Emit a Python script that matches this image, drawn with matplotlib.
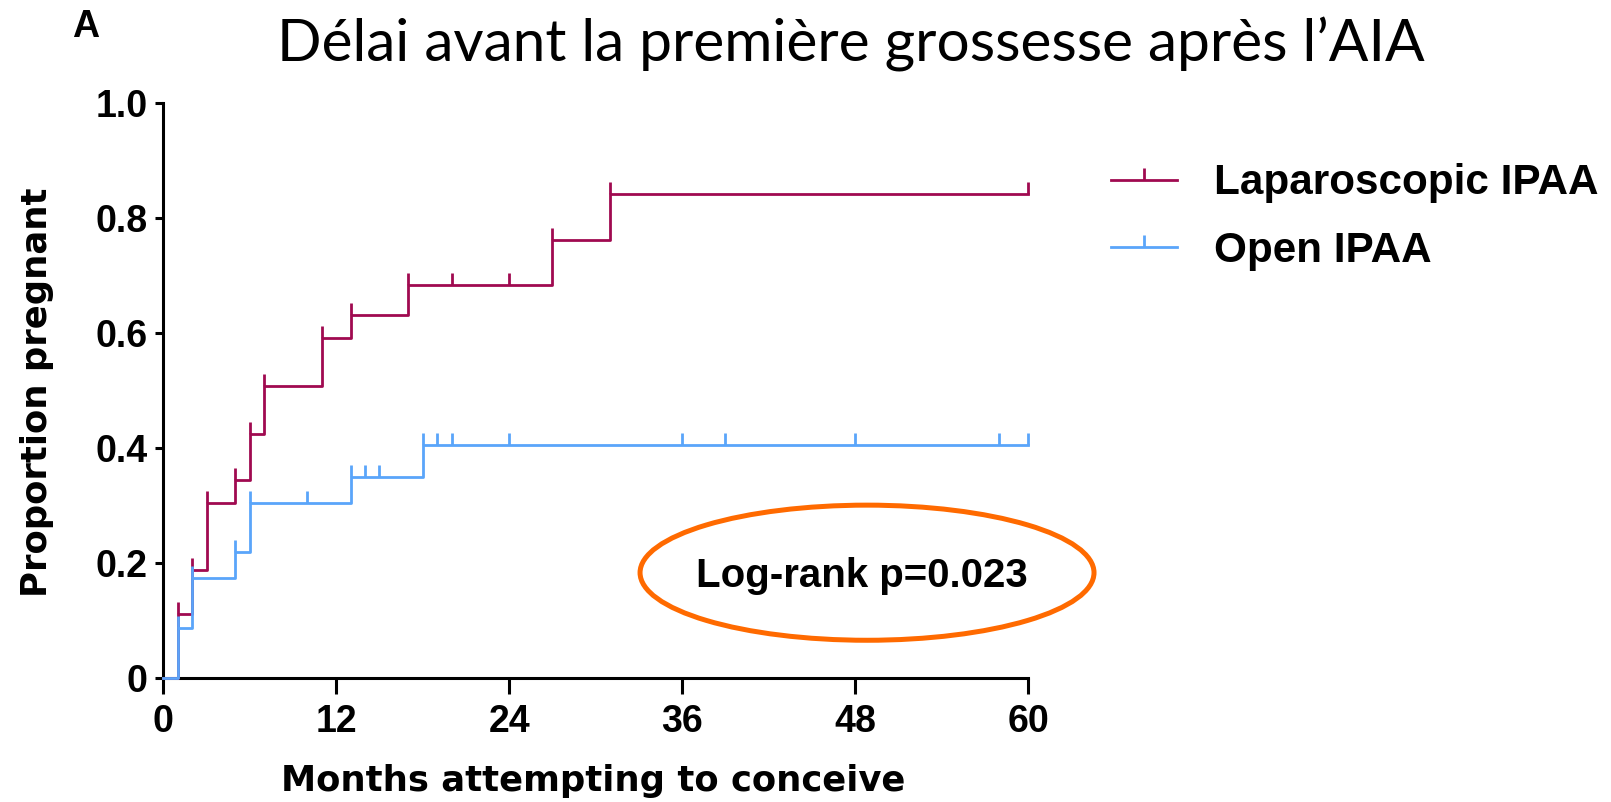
import numpy as np
import matplotlib
matplotlib.use('Agg')
from matplotlib import pyplot as plt
from matplotlib.path import Path
from matplotlib.patches import Ellipse

# Kaplan-Meier style step data (months, proportion pregnant)
lap_times = [0, 1, 2, 3, 5, 6, 7, 11, 13, 17, 27, 31, 60]
lap_prop = [0, 0.111, 0.188, 0.304, 0.343, 0.424, 0.508, 0.590, 0.630, 0.683, 0.762, 0.842, 0.842]
lap_censor = [1, 2, 3, 5, 6, 7, 11, 13, 17, 20, 24, 27, 31, 60]

open_times = [0, 1, 2, 5, 6, 13, 18, 60]
open_prop = [0, 0.087, 0.173, 0.218, 0.304, 0.349, 0.404, 0.404]
open_censor = [1, 2, 5, 6, 10, 13, 14, 15, 18, 19, 20, 24, 36, 39, 48, 58, 60]

labels = ['Laparoscopic IPAA', 'Open IPAA']
x_ticks = [0, 12, 24, 36, 48, 60]
y_ticks = [0, 0.2, 0.4, 0.6, 0.8, 1.0]
y_ticklabels = ['0', '0.2', '0.4', '0.6', '0.8', '1.0']

RED = '#A00A50'
BLUE = '#5AA5FA'
ORANGE = '#FF6A00'
TICK = Path([(0, 0), (0, 1)])  # upward censor tick


def level_at(times, props, t):
    idx = np.searchsorted(times, t, side='right') - 1
    return np.asarray(props)[idx]


fig = plt.figure(figsize=(16.11, 8.02), dpi=100)
ax = fig.add_axes([0.10137, 0.15499, 0.53675, 0.71696])

handles = []
for times, props, cens, col, lab, z in [
        (lap_times, lap_prop, lap_censor, RED, labels[0], 3),
        (open_times, open_prop, open_censor, BLUE, labels[1], 4)]:
    ax.step(times, props, where='post', color=col, lw=2.0, clip_on=False, zorder=z)
    ax.plot(cens, level_at(times, props, cens), ls='none', marker=TICK,
            markersize=17, markeredgewidth=2.0, color=col, clip_on=False, zorder=z)
    h, = ax.plot([], [], color=col, lw=2.0, marker=TICK, markersize=17,
                 markeredgewidth=2.0, label=lab)
    handles.append(h)

ax.set_xlim(0, 60)
ax.set_ylim(0, 1)
ax.spines['top'].set_visible(False)
ax.spines['right'].set_visible(False)
for s in ['left', 'bottom']:
    ax.spines[s].set_linewidth(2.2)

ax.set_xticks(x_ticks)
ax.set_yticks(y_ticks)
ax.set_yticklabels(y_ticklabels)
tick_font = dict(family='Liberation Sans', weight='bold', size=27)
for lbl in ax.get_xticklabels() + ax.get_yticklabels():
    lbl.set_fontproperties(matplotlib.font_manager.FontProperties(**tick_font))
ax.tick_params(axis='x', length=11.5, width=2.2, pad=7.5)
ax.tick_params(axis='y', length=5.8, width=2.2, pad=5.5)

ax.set_xlabel('Months attempting to conceive', family='DejaVu Sans', weight='bold',
              size=25.5, va='baseline')
ax.xaxis.set_label_coords(0.497, -0.1965)
ax.set_ylabel('Proportion pregnant', family='DejaVu Sans', weight='bold',
              size=25.5, va='baseline')
ax.yaxis.set_label_coords(-0.1348, 0.496)

# log-rank annotation
ax.add_patch(Ellipse((48.83, 0.1826), 31.5, 0.235, fill=False, edgecolor=ORANGE,
                     lw=3.6, clip_on=False, zorder=5))
ax.text(48.5, 0.157, 'Log-rank p=0.023', ha='center', va='baseline',
        family='Liberation Sans', weight='bold', size=29)

ax.legend(handles=handles, loc='upper left', bbox_to_anchor=(0.6894, 0.7963),
          bbox_transform=fig.transFigure, frameon=False, numpoints=1,
          prop=dict(family='Liberation Sans', weight='bold', size=30.4),
          handlelength=1.58, handletextpad=0.87, labelspacing=0.66,
          borderpad=0, borderaxespad=0)

fig.text(72 / 1611, 1 - 37 / 802, 'A', family='Liberation Sans', weight='bold',
         size=27, ha='left', va='baseline')

title = fig.text(850.7 / 1611, 1 - 61.7 / 802, 'Délai avant la première grossesse après l\u2019AIA',
                 family='Lato', size=40, ha='center', va='baseline')
fig.canvas.draw()
w = title.get_window_extent().width
title.set_fontsize(40 * 1148 / w)

fig.savefig('out.png', dpi=100)
